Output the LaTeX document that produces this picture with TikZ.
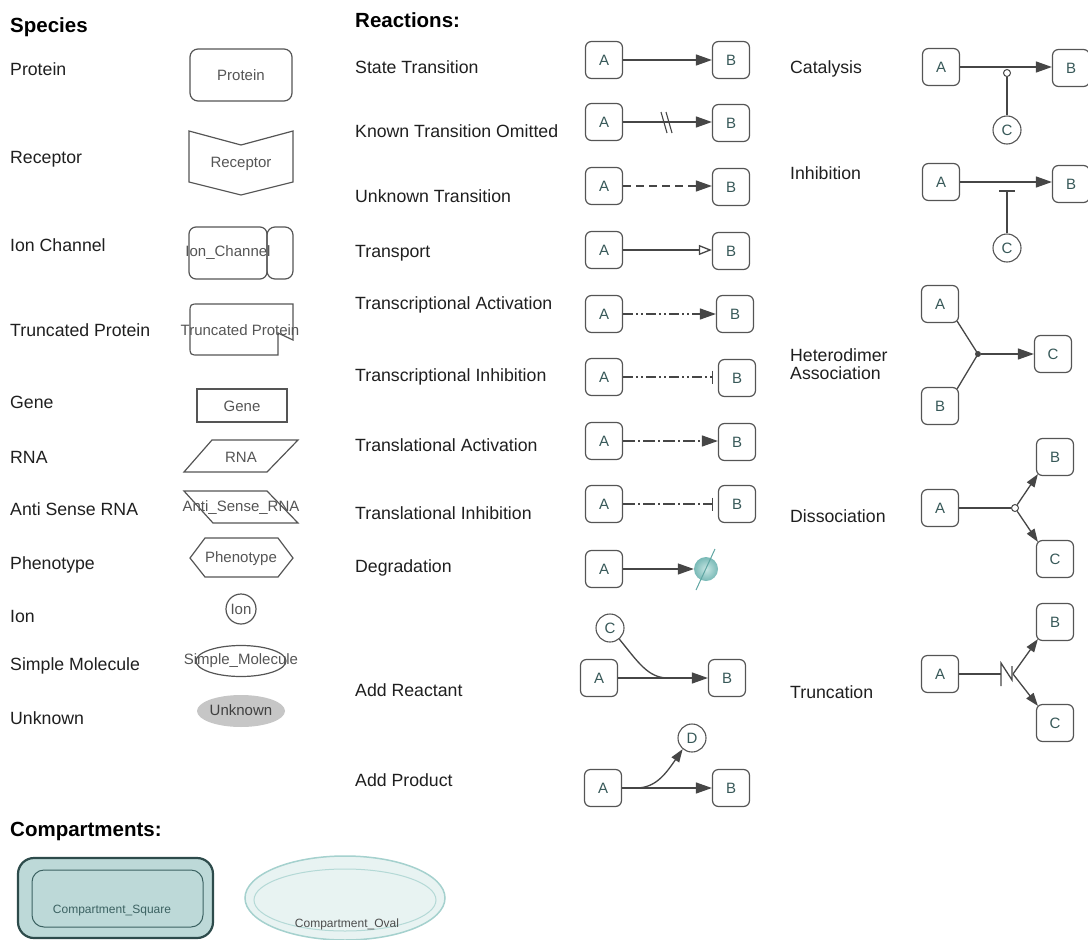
\documentclass[tikz,border=0pt]{standalone}
\usepackage{fontspec}
\setmainfont{Liberation Sans}
\usetikzlibrary{arrows.meta,shapes.geometric}
\definecolor{lineC}{RGB}{70,70,70}
\definecolor{spC}{RGB}{85,85,85}
\definecolor{letterC}{RGB}{55,88,88}
\definecolor{degFill}{RGB}{120,185,182}
\definecolor{degLight}{RGB}{200,230,228}
\definecolor{degLine}{RGB}{95,165,162}
\definecolor{sqFill}{RGB}{189,217,216}
\definecolor{sqEdge}{RGB}{45,75,75}
\definecolor{sqInner}{RGB}{60,98,98}
\definecolor{ovFill}{RGB}{232,243,242}
\definecolor{ovEdge}{RGB}{165,209,206}
\definecolor{ovInner}{RGB}{180,217,214}
\definecolor{unkFill}{RGB}{198,198,198}
\begin{document}
\begin{tikzpicture}[x=1pt,y=-1pt,
  lbl/.style={anchor=base west, inner sep=0, font=\fontsize{17.7}{20}\selectfont, text=black!88},
  hdr/.style={anchor=base west, inner sep=0, font=\fontsize{20.5}{24}\selectfont\bfseries},
  sp/.style={draw=spC, line width=1.2pt},
  sptxt/.style={inner sep=0, font=\fontsize{15}{17}\selectfont, text=spC},
  rbox/.style={draw=spC, line width=1.2pt, rounded corners=6pt, minimum width=37pt,
    minimum height=37pt, inner sep=0, font=\fontsize{15}{17}\selectfont, text=letterC},
  rcirc/.style={draw=spC, line width=1.1pt, circle, minimum size=28pt, inner sep=0,
    font=\fontsize{15}{17}\selectfont, text=letterC},
  link/.style={draw=lineC, line width=1.3pt},
  tipA/.style={-{Triangle[length=16pt,width=11pt]}},
  tipS/.style={-{Triangle[length=13pt,width=9pt]}},
  tipO/.style={-{Triangle[open,length=13pt,width=10pt]}},
  tipBar/.style={-{Bar[width=13pt,line width=1.2pt]}, shorten >=5pt},
  dot/.style={circle, inner sep=0, minimum size=6pt, fill=lineC},
  odot/.style={circle, inner sep=0, minimum size=7pt, draw=lineC, fill=white, line width=1pt},
  txdash/.style={dash pattern=on 10pt off 3pt on 2pt off 3pt on 2pt off 3pt},
  tldash/.style={dash pattern=on 12pt off 3pt on 2pt off 3pt},
]
\useasboundingbox (0,0) rectangle (1088,940);

% ---------------- headers ----------------
\node[hdr] (hSpecies) at (10,32) {Species};
\node[hdr] (hReactions) at (355,27) {Reactions:};
\node[hdr] (hCompartments) at (10,836) {Compartments:};

% ---------------- species labels ----------------
\node[lbl] (lProtein) at (10,75) {Protein};
\node[lbl] (lReceptor) at (10,163) {Receptor};
\node[lbl] (lIonCh) at (10,251) {Ion Channel};
\node[lbl] (lTrunc) at (10,336) {Truncated Protein};
\node[lbl] (lGene) at (10,408) {Gene};
\node[lbl] (lRNA) at (10,463) {RNA};
\node[lbl] (lAnti) at (10,515) {Anti Sense RNA};
\node[lbl] (lPheno) at (10,569) {Phenotype};
\node[lbl] (lIon) at (10,622) {Ion};
\node[lbl] (lSimple) at (10,670) {Simple Molecule};
\node[lbl] (lUnknown) at (10,724) {Unknown};

% ---------------- species glyphs ----------------
\draw[sp, rounded corners=8pt] (190,49) rectangle (292,101);
\node[sptxt] (tProtein) at (241,75) {Protein};

\draw[sp] (189,131) -- (241,145) -- (293,131) -- (293,182) -- (241,195) -- (189,182) -- cycle;
\node[sptxt] (tReceptor) at (241,164) {Receptor};

\draw[sp, rounded corners=7pt] (189,227) rectangle (267,279);
\draw[sp, rounded corners=8pt] (267,227) rectangle (293,279);
\node[sptxt] (tIonCh) at (228,253) {Ion\_Channel};

\draw[sp] (278,333) -- (293,340) -- (293,304) -- (199,304)
  .. controls (190,304) .. (190,313) -- (190,346)
  .. controls (190,355) .. (199,355) -- (278,355) -- cycle;
\node[sptxt] (tTrunc) at (240,330) {Truncated Protein};

\draw[sp] (197,389) rectangle (287,422);
\node[sptxt] (tGene) at (242,406) {Gene};

\draw[sp] (212,440) -- (298,440) -- (267,472) -- (184,472) -- cycle;
\node[sptxt] (tRNA) at (241,457) {RNA};

\draw[sp] (184,491) -- (267,491) -- (298,523) -- (213,523) -- cycle;
\node[sptxt] (tAnti) at (241,508) {Anti\_Sense\_RNA};

\draw[sp] (190,558) -- (205,538) -- (278,538) -- (293,558) -- (278,577) -- (205,577) -- cycle;
\node[sptxt] (tPheno) at (241,559) {Phenotype};

\node[sp, circle, minimum size=30pt, inner sep=0] (gIon) at (241,609) {};
\node[sptxt] (tIon) at (241,609) {Ion};

\node[sp, ellipse, minimum width=90pt, minimum height=31pt, inner sep=0] (gSimple) at (241,661) {};
\node[sptxt] (tSimple) at (241,661) {Simple\_Molecule};

\node[ellipse, fill=unkFill, minimum width=88pt, minimum height=32pt, inner sep=0] (gUnknown) at (241,711) {};
\node[sptxt, text=black!75] (tUnknown) at (241,710) {Unknown};

% ---------------- reaction labels ----------------
\node[lbl] (lState) at (355,73) {State Transition};
\node[lbl] (lKnown) at (355,137) {Known Transition Omitted};
\node[lbl] (lUnkT) at (355,202) {Unknown Transition};
\node[lbl] (lTransport) at (355,257) {Transport};
\node[lbl] (lTxAct) at (355,309) {Transcriptional Activation};
\node[lbl] (lTxInh) at (355,381) {Transcriptional Inhibition};
\node[lbl] (lTlAct) at (355,451) {Translational Activation};
\node[lbl] (lTlInh) at (355,519) {Translational Inhibition};
\node[lbl] (lDeg) at (355,572) {Degradation};
\node[lbl] (lAddR) at (355,696) {Add Reactant};
\node[lbl] (lAddP) at (355,786) {Add Product};

\node[lbl] (lCat) at (790,73) {Catalysis};
\node[lbl] (lInh) at (790,179) {Inhibition};
\node[lbl] (lHet1) at (790,361) {Heterodimer};
\node[lbl] (lHet2) at (790,379) {Association};
\node[lbl] (lDis) at (790,522) {Dissociation};
\node[lbl] (lTrn) at (790,698) {Truncation};

% ---------------- state transition ----------------
\node[rbox] (stA) at (604,60) {A};
\node[rbox] (stB) at (731,60) {B};
\draw[link, tipA] (stA.east) -- (stA.east -| stB.west);

% ---------------- known transition omitted ----------------
\node[rbox] (koA) at (604,122) {A};
\node[rbox] (koB) at (731,123) {B};
\draw[link, tipA] (koA.east) -- (koA.east -| koB.west);
\draw[lineC, line width=1.1pt] (661,112) -- (667,133) (666,112) -- (672,133);

% ---------------- unknown transition ----------------
\node[rbox] (ukA) at (604,186) {A};
\node[rbox] (ukB) at (731,187) {B};
\draw[link, tipA, dash pattern=on 8pt off 5pt] (ukA.east) -- (ukA.east -| ukB.west);

% ---------------- transport ----------------
\node[rbox] (tpA) at (604,250) {A};
\node[rbox] (tpB) at (731,251) {B};
\draw[link, tipO] (tpA.east) -- (tpA.east -| tpB.west);

% ---------------- transcriptional activation / inhibition ----------------
\node[rbox] (taA) at (604,314) {A};
\node[rbox] (taB) at (735,314) {B};
\draw[link, txdash, tipA] (taA.east) -- (taA.east -| taB.west);

\node[rbox] (tiA) at (604,377) {A};
\node[rbox] (tiB) at (737,378) {B};
\draw[link, txdash, tipBar] (tiA.east) -- (tiA.east -| tiB.west);

% ---------------- translational activation / inhibition ----------------
\node[rbox] (laA) at (604,441) {A};
\node[rbox] (laB) at (737,442) {B};
\draw[link, tldash, tipA] (laA.east) -- (laA.east -| laB.west);

\node[rbox] (liA) at (604,504) {A};
\node[rbox] (liB) at (737,504) {B};
\draw[link, tldash, tipBar] (liA.east) -- (liA.east -| liB.west);

% ---------------- degradation ----------------
\node[rbox] (dgA) at (604,569) {A};
\node[circle, minimum size=24pt, inner sep=0, inner color=degLight, outer color=degFill] (dgSink) at (706,569) {};
\draw[degLine, line width=1pt] (696,590) -- (715,549);
\draw[link, tipA] (dgA.east) -- (dgSink.west);

% ---------------- add reactant ----------------
\node[rcirc] (arC) at (610,628) {C};
\node[rbox] (arA) at (599,678) {A};
\node[rbox] (arB) at (727,678) {B};
\coordinate (arJ) at (668,678);
\draw[link, tipA] (arA.east) -- (arA.east -| arB.west);
\draw[link] (arC.-50) .. controls (638,662) and (648,678) .. (arJ);

% ---------------- add product ----------------
\node[rcirc] (apD) at (692,738) {D};
\node[rbox] (apA) at (603,788) {A};
\node[rbox] (apB) at (731,788) {B};
\coordinate (apJ) at (636,788);
\draw[link, tipA] (apA.east) -- (apA.east -| apB.west);
\draw[link, tipS] (apJ) .. controls (655,788) and (665,775) .. (apD.-130);

% ---------------- catalysis ----------------
\node[rbox] (caA) at (941,67) {A};
\node[rbox] (caB) at (1071,68) {B};
\node[rcirc] (caC) at (1007,130) {C};
\node[odot] (caK) at (1007,73) {};
\draw[link, tipA] (caA.east) -- (caA.east -| caB.west);
\draw[link] (caC.north) -- (caK.south);

% ---------------- inhibition ----------------
\node[rbox] (inA) at (941,182) {A};
\node[rbox] (inB) at (1071,184) {B};
\node[rcirc] (inC) at (1007,248) {C};
\coordinate (inBar) at (1007,191);
\coordinate (inBarL) at (999,191);
\coordinate (inBarR) at (1015,191);
\draw[link, tipA] (inA.east) -- (inA.east -| inB.west);
\draw[link] (inC.north) -- (inBar);
\draw[link] (inBarL) -- (inBarR);

% ---------------- heterodimer association ----------------
\node[rbox] (hdA) at (940,304) {A};
\node[rbox] (hdB) at (940,406) {B};
\node[rbox] (hdC) at (1053,354) {C};
\node[dot] (hdJ) at (978,354) {};
\draw[link] ([shift={(-2,-2)}]hdA.south east) -- (hdJ.center);
\draw[link] ([shift={(-2,2)}]hdB.north east) -- (hdJ.center);
\draw[link, tipA] (hdJ) -- (hdC.west);

% ---------------- dissociation ----------------
\node[rbox] (dsA) at (940,508) {A};
\node[rbox] (dsB) at (1055,457) {B};
\node[rbox] (dsC) at (1055,559) {C};
\node[odot] (dsJ) at (1015,508) {};
\draw[link] (dsA.east) -- (dsJ.west);
\draw[link, tipS] (dsJ) -- ([shift={(2,-2)}]dsB.south west);
\draw[link, tipS] (dsJ) -- ([shift={(2,2)}]dsC.north west);

% ---------------- truncation ----------------
\node[rbox] (trA) at (940,674) {A};
\node[rbox] (trB) at (1055,622) {B};
\node[rbox] (trC) at (1055,723) {C};
\coordinate (trJ) at (1013,674);
\coordinate (trN) at (1001,674);
\draw[link] (trA.east) -- (trN);
\draw[link] (1001,686) -- (1001,663) -- (1012,680) -- (1012,666);
\draw[link, tipS] (trJ) -- ([shift={(2,-2)}]trB.south west);
\draw[link, tipS] (trJ) -- ([shift={(2,2)}]trC.north west);

% ---------------- compartments ----------------
\draw[fill=sqFill, draw=sqEdge, line width=2.2pt, rounded corners=16pt] (18,858) rectangle (213,938);
\draw[draw=sqInner, line width=1pt, rounded corners=12pt] (32,870) rectangle (203,927);
\node[inner sep=0, font=\fontsize{12}{14}\selectfont, text=sqInner] (tSquare) at (112,911) {Compartment\_Square};

\node[ellipse, fill=ovFill, draw=ovEdge, line width=1.5pt, minimum width=200pt, minimum height=84pt, inner sep=0] (ovOuter) at (345,898) {};
\node[ellipse, draw=ovInner, line width=1pt, minimum width=182pt, minimum height=62pt, inner sep=0] (ovInnerE) at (345,900) {};
\node[inner sep=0, font=\fontsize{12}{14}\selectfont, text=black!70] (tOval) at (347,924) {Compartment\_Oval};
\end{tikzpicture}
\end{document}
